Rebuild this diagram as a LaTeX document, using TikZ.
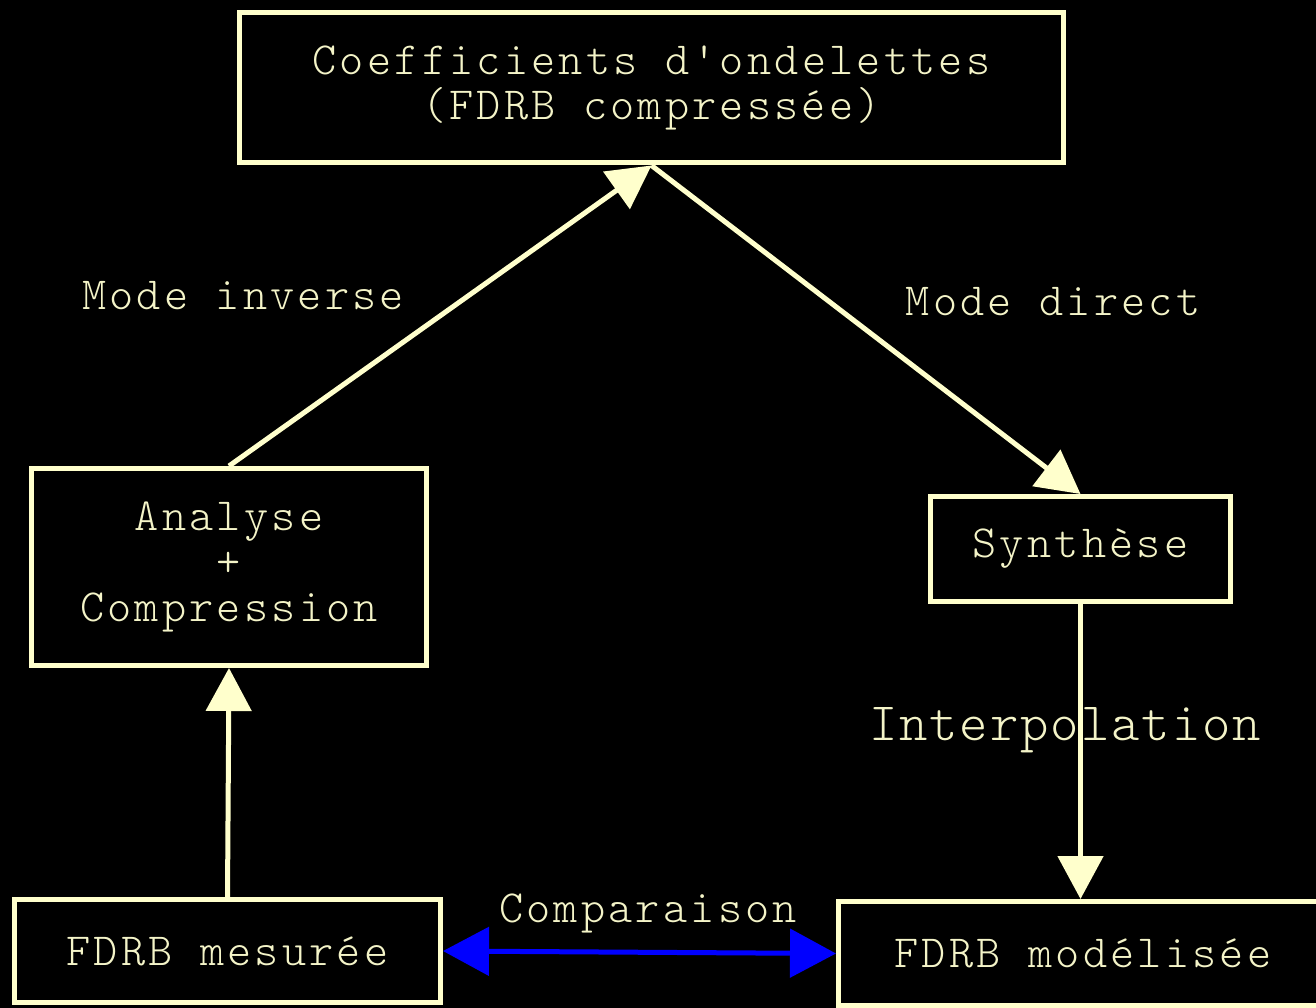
\documentclass[tikz,border=0pt]{standalone}
\usepackage{fontspec}
\newfontfamily\cour[LetterSpace=7]{lmmonolt10-regular.otf}
\newfontfamily\courb[LetterSpace=3.6]{lmmonolt10-regular.otf}
\usetikzlibrary{arrows.meta}
\definecolor{cream}{HTML}{FFFFCC}
\definecolor{txt}{HTML}{F4F4C8}
\begin{document}
\begin{tikzpicture}[x=1pt,y=-1pt,
  box/.style={draw=cream, line width=5pt, fill=black, text=txt,
    font=\cour\fontsize{46}{45.5}\selectfont, align=center, inner sep=0pt},
  lbl/.style={text=txt, font=\cour\fontsize{46}{45.5}\selectfont, inner sep=0pt, anchor=base},
  conn/.style={draw=cream, line width=5pt, -{Triangle[length=43pt,width=45pt]}},
  cmp/.style={draw=blue, line width=5pt, {Triangle[length=46pt,width=48pt]}-{Triangle[length=46pt,width=48pt]}},
]
\fill[black] (0,0) rectangle (1316,1008);
\useasboundingbox (0,0) rectangle (1316,1008);
\clip (0,0) rectangle (1316,1008);

\node[box, minimum width=824pt, minimum height=150pt] (top) at (651.5,88)
  {Coefficients d'ondelettes\\(FDRB compressée)};
\node[box, minimum width=395pt, minimum height=197pt] (ana) at (229,567)
  {Analyse\\+\\Compression};
\node[box, minimum width=300pt, minimum height=105pt] (syn) at (1080.5,549)
  {Synthèse};
\node[box, minimum width=426pt, minimum height=103pt] (mes) at (227.5,951)
  {FDRB mesurée};
\node[box, minimum width=489pt, minimum height=104pt] (mod) at (1083,953.5)
  {FDRB modélisée};

\draw[conn] (ana.north) -- (top.south);
\draw[conn] (top.south) -- (syn.north);
\draw[conn] (mes.north) -- (ana.south);
\draw[conn] (syn.south) -- (syn.south |- mod.north);
\draw[cmp] (mes.east) -- (mod.west);

\node[lbl] (linv) at (243,309) {Mode inverse};
\node[lbl] (ldir) at (1053,315) {Mode direct};
\node[lbl] (lcmp) at (648,922) {Comparaison};
\node[lbl, font=\courb\fontsize{54}{54}\selectfont] (lint) at (1065,740) {Interpolation};
\end{tikzpicture}
\end{document}
